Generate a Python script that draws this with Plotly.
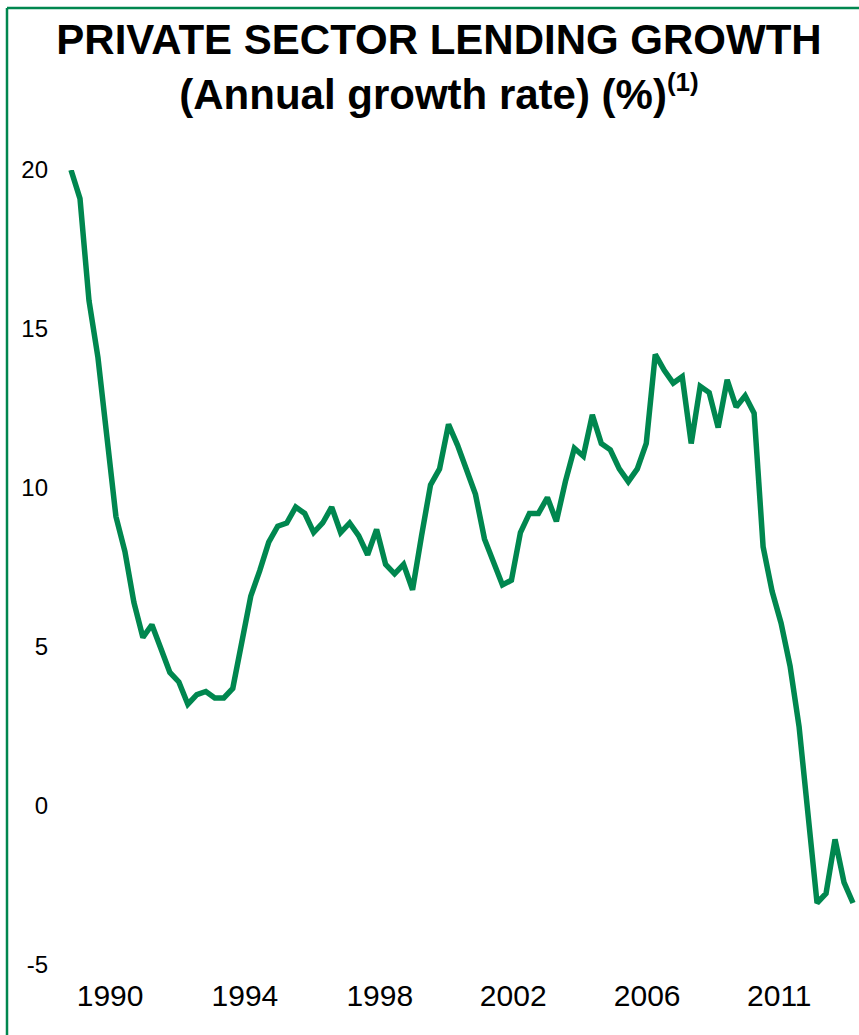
import plotly.graph_objects as go

# Annual growth rate of lending to the private sector (%), one value per period
period = list(range(88))
growth = [
    20.0, 19.1, 15.9, 14.1, 11.6, 9.1, 8.0, 6.4, 5.3, 5.7,
    4.95, 4.2, 3.9, 3.2, 3.5, 3.6, 3.4, 3.4, 3.7, 5.2,
    6.6, 7.4, 8.3, 8.8, 8.9, 9.4, 9.2, 8.6, 8.9, 9.4,
    8.6, 8.9, 8.5, 7.9, 8.7, 7.6, 7.3, 7.6, 6.8, 8.5,
    10.1, 10.6, 12.0, 11.35, 10.6, 9.8, 8.4, 7.7, 6.95, 7.1,
    8.6, 9.2, 9.2, 9.7, 8.95, 10.2, 11.25, 11.0, 12.3, 11.4,
    11.2, 10.6, 10.2, 10.6, 11.4, 14.2, 13.7, 13.3, 13.5, 11.4,
    13.2, 13.0, 11.9, 13.4, 12.55, 12.9, 12.35, 8.15, 6.75, 5.75,
    4.4, 2.5, -0.3, -3.05, -2.75, -1.05, -2.4, -3.05,
]

year_labels = ["1990", "1994", "1998", "2002", "2006", "2011"]
year_label_pos = [4.35, 19.35, 34.35, 49.2, 64.1, 78.8]

y_ticks = [-5, 0, 5, 10, 15, 20]
y_tick_labels = ["-5", "0", "5", "10", "15", "20"]

GREEN = "#00874F"
FONT = "Liberation Sans, Arial, sans-serif"

W, H = 859, 1035
L, R, T, B = 55, 0, 170, 60  # margins in px
plot_w = W - L - R
plot_h = H - T - B


def px_to_paper_x(px):
    return (px - L) / plot_w


def py_to_paper_y(py):
    return (H - B - py) / plot_h


fig = go.Figure()
fig.add_trace(go.Scatter(
    x=period, y=growth, mode="lines",
    line=dict(color=GREEN, width=5.5),
    hoverinfo="skip", showlegend=False,
))

# Green frame along the top and left edges
left_x = px_to_paper_x(7)
top_y = py_to_paper_y(8)
fig.add_shape(type="line", xref="paper", yref="paper",
              x0=left_x, x1=px_to_paper_x(W + 20), y0=top_y, y1=top_y,
              line=dict(color=GREEN, width=2.5))
fig.add_shape(type="line", xref="paper", yref="paper",
              x0=left_x, x1=left_x, y0=top_y, y1=py_to_paper_y(H + 20),
              line=dict(color=GREEN, width=2.5))

fig.update_layout(
    width=W, height=H,
    margin=dict(l=L, r=R, t=T, b=B, pad=0),
    paper_bgcolor="white", plot_bgcolor="white",
    font=dict(family=FONT, color="black"),
    title=dict(
        text=("<b>PRIVATE SECTOR LENDING GROWTH<br>(Annual growth rate) (%)"
              "<sup><span style='font-size:26px'>(1)</span></sup></b>"),
        font=dict(family=FONT, size=42, color="black"),
        x=439 / W, xanchor="center", xref="container",
        y=1 - 54 / H, yanchor="middle", yref="container",
    ),
    xaxis=dict(
        range=[-(71 - L) / 8.99, 87 + (W - R - 853) / 8.99],
        tickvals=year_label_pos, ticktext=year_labels,
        showgrid=False, zeroline=False, showline=False, ticks="",
        tickfont=dict(family=FONT, size=30, color="black"),
    ),
    yaxis=dict(
        range=[-5 - (H - B - 965) / 31.8, 20],
        tickvals=y_ticks, ticktext=y_tick_labels,
        showgrid=False, zeroline=False, showline=False, ticks="",
        tickfont=dict(family=FONT, size=24, color="black"),
        ticklabelstandoff=6,
    ),
)

fig.write_html("out.html")
